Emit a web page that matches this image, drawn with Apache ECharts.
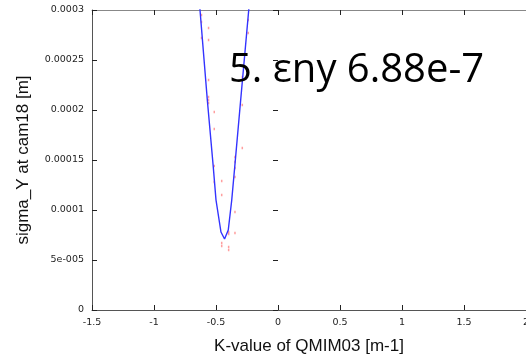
<!DOCTYPE html>
<html>
<head>
<meta charset="utf-8">
<script src="https://cdn.jsdelivr.net/npm/echarts@6/dist/echarts.min.js"></script>
<style>
  html, body { margin: 0; padding: 0; background: #fff; overflow: hidden; }
  #chart { width: 526px; height: 357px; }
</style>
</head>
<body>
<div id="chart"></div>
<script>
// Fitted beam-size curve (K-value, sigma_Y)
const fitK     = [-0.66, -0.629, -0.570, -0.522, -0.500, -0.460, -0.431, -0.401, -0.373, -0.349, -0.301, -0.236, -0.20];
const fitSigma = [3.47e-4, 3.0e-4, 2.1e-4, 1.43e-4, 1.1e-4, 7.8e-5, 7.1e-5, 8.0e-5, 1.1e-4, 1.43e-4, 2.1e-4, 3.0e-4, 3.5e-4];

// Measured points (K-value, sigma_Y)
const measK = [
  -0.617, -0.617, -0.617,
  -0.560, -0.560, -0.560, -0.560, -0.560, -0.560,
  -0.514, -0.514, -0.514, -0.514,
  -0.454, -0.454, -0.454, -0.454,
  -0.398, -0.398, -0.398, -0.398,
  -0.347, -0.347, -0.347, -0.347, -0.347, -0.347,
  -0.288, -0.288, -0.288,
  -0.240, -0.240
];
const measSigma = [
  2.95e-4, 2.88e-4, 2.72e-4,
  2.82e-4, 2.70e-4, 2.30e-4, 2.13e-4, 2.10e-4, 2.07e-4,
  1.98e-4, 1.81e-4, 1.44e-4, 1.28e-4,
  1.29e-4, 1.15e-4, 6.7e-5, 6.4e-5,
  7.8e-5, 7.6e-5, 6.3e-5, 6.0e-5,
  1.53e-4, 1.48e-4, 1.42e-4, 1.33e-4, 9.8e-5, 7.7e-5,
  2.33e-4, 2.05e-4, 1.62e-4,
  2.90e-4, 2.77e-4
];

const yTickLabels = {0: '0', 5e-5: '5e-005', 1e-4: '0.0001', 1.5e-4: '0.00015', 2e-4: '0.0002', 2.5e-4: '0.00025', 3e-4: '0.0003'};

const xTitle = 'K-value of QMIM03 [m-1]';
const yTitle = 'sigma_Y at cam18 [m]';
const note = '5. \u03b5ny 6.88e-7';

const fitData = fitK.map((k, i) => [k, fitSigma[i]]);
const measData = measK.map((k, i) => [k, measSigma[i]]);

const labelFont = { fontFamily: 'DejaVu Sans', fontSize: 9.5, color: '#222' };

const chart = echarts.init(document.getElementById('chart'), null, { renderer: 'canvas', width: 526, height: 357 });
chart.setOption({
  animation: false,
  backgroundColor: '#fff',
  grid: { left: 92, right: 0, top: 10, bottom: 47, containLabel: false, outerBoundsMode: 'none' },
  xAxis: [
    {
      type: 'value', position: 'bottom', min: -1.5, max: 2, interval: 0.5,
      axisLine: { show: true, onZero: false, lineStyle: { color: '#555', width: 1 } },
      axisTick: { show: true, inside: true, length: 5, lineStyle: { color: '#222' } },
      axisLabel: Object.assign({ margin: 8, formatter: v => String(v) }, labelFont),
      splitLine: { show: false },
      name: xTitle, nameLocation: 'middle', nameGap: 28,
      nameTextStyle: { fontFamily: 'Liberation Sans', fontSize: 17, color: '#111' }
    },
    {
      type: 'value', position: 'top', min: -1.5, max: 2, interval: 0.5,
      axisLine: { show: true, onZero: false, lineStyle: { color: '#888', width: 1 } },
      axisTick: { show: true, inside: true, length: 5, lineStyle: { color: '#222' } },
      axisLabel: { show: false },
      splitLine: { show: false }
    }
  ],
  yAxis: [
    {
      type: 'value', position: 'left', min: 0, max: 3e-4, interval: 5e-5,
      axisLine: { show: true, onZero: false, lineStyle: { color: '#555', width: 1 } },
      axisTick: { show: true, inside: true, length: 5, lineStyle: { color: '#222' } },
      axisLabel: Object.assign({ margin: 8, formatter: v => {
        const key = Object.keys(yTickLabels).find(k => Math.abs(Number(k) - v) < 1e-9);
        return key !== undefined ? yTickLabels[key] : '';
      } }, labelFont),
      splitLine: { show: false },
      name: yTitle, nameLocation: 'middle', nameGap: 60, nameRotate: 90,
      nameTextStyle: { fontFamily: 'Liberation Sans', fontSize: 17, color: '#111' }
    },
    {
      type: 'value', position: 'right', min: 0, max: 3e-4, interval: 5e-5,
      axisLine: { show: false },
      axisTick: { show: true, inside: true, length: 5, lineStyle: { color: '#222' } },
      axisLabel: { show: false },
      splitLine: { show: false }
    }
  ],
  series: [
    {
      type: 'scatter', xAxisIndex: 0, yAxisIndex: 0,
      data: measData, symbol: 'rect', symbolSize: [1.5, 2.5],
      itemStyle: { color: 'rgba(255,70,70,0.65)' }, z: 2
    },
    {
      type: 'line', xAxisIndex: 0, yAxisIndex: 0,
      data: fitData, showSymbol: false, clip: true,
      lineStyle: { color: '#3333ff', width: 1.4 }, z: 3
    }
  ],
  graphic: [
    {
      type: 'text', left: 229, top: 51, z: 10,
      style: { text: note, font: '40px "Open Sans"', fill: '#000' }
    }
  ]
});
</script>
</body>
</html>
